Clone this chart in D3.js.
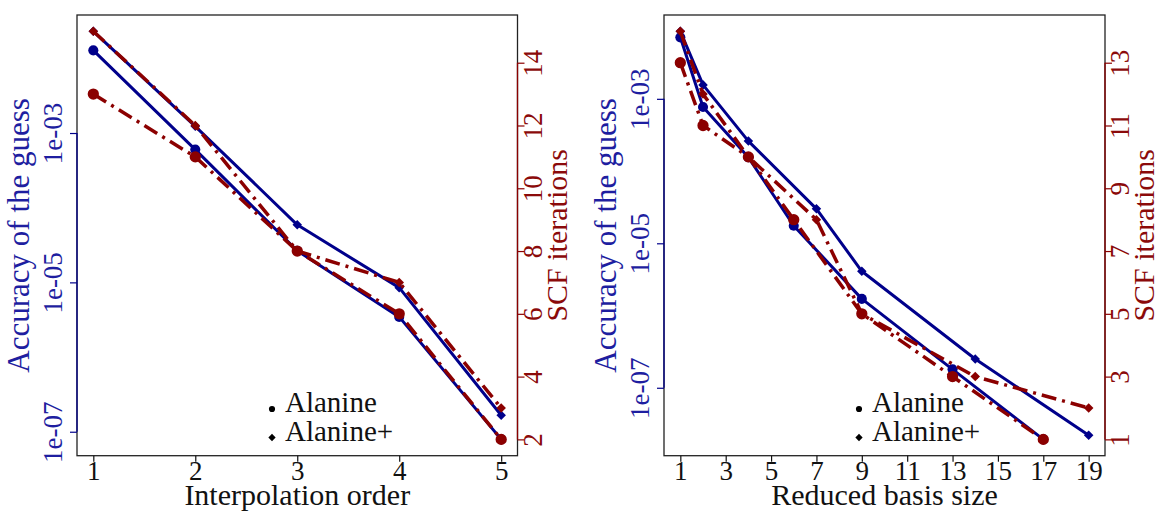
<!DOCTYPE html>
<html>
<head>
<meta charset="utf-8">
<script src="https://cdn.jsdelivr.net/npm/d3@7"></script>
<style>
  body { margin: 0; background: #fff; }
</style>
</head>
<body>
<svg id="chart" width="1161" height="512"></svg>
<script>
// Left panel: interpolation order
var orderX = [1, 2, 3, 4, 5];
var orderAccAla = [1.28e-2, 6.0e-4, 2.65e-5, 3.45e-6, 7.9e-8];
var orderAccAlaP = [2.3e-2, 1.23e-3, 5.9e-5, 8.5e-6, 1.66e-7];
var orderScfAla = [13, 11, 8, 6, 2];
var orderScfAlaP = [15, 12, 8, 7, 3];

// Right panel: reduced basis size
var basisXAla = [1, 2, 4, 6, 9, 13, 17];
var basisXAlaP = [1, 2, 4, 7, 9, 14, 19];
var basisAccAla = [7.1e-3, 7.7e-4, 1.55e-4, 1.75e-5, 1.7e-6, 1.8e-7, 1.93e-8];
var basisAccAlaP = [8.6e-3, 1.56e-3, 2.6e-4, 3.0e-5, 4.1e-6, 2.5e-7, 2.2e-8];
var basisScfAla = [13, 11, 10, 8, 5, 3, 1];
var basisScfAlaP = [14, 12, 10, 8, 5, 3, 2];

// ticks
var orderTicks = [1, 2, 3, 4, 5];
var basisTicks = [1, 3, 5, 7, 9, 11, 13, 15, 17, 19];
var accTicks = [1e-7, 1e-5, 1e-3];
var accTickLabels = ["1e-07", "1e-05", "1e-03"];
var orderScfTicks = [2, 4, 6, 8, 10, 12, 14];
var basisScfTicks = [1, 3, 5, 7, 9, 11, 13];

var legendNames = ["Alanine", "Alanine+"];

var blue = "#00008b", red = "#8b0000";
var blueText = "#1e1ea0", redText = "#8b0a0a";
var serif = "'Liberation Serif', 'DejaVu Serif', 'Noto Serif', 'Times New Roman', Tinos, serif";

var svg = d3.select("#chart").style("font-family", serif);

// R style 4% padding
function padded(ext) {
    var r = ext[1] - ext[0];
    return [ext[0] - 0.04 * r, ext[1] + 0.04 * r];
}

function drawPanel(p) {
    var g = svg.append("g");

    var allX = p.x1.concat(p.x2);
    var xScale = d3.scaleLinear().domain(padded(d3.extent(allX))).range([p.left, p.right]);

    var logs = p.acc1.concat(p.acc2).map(function(d) { return Math.log10(d); });
    var ld = padded(d3.extent(logs));
    var yAcc = d3.scaleLog().domain([Math.pow(10, ld[0]), Math.pow(10, ld[1])]).range([p.bottom, p.top]);

    var yScf = d3.scaleLinear().domain(padded(d3.extent(p.scf1.concat(p.scf2)))).range([p.bottom, p.top]);

    // box
    g.append("rect")
        .attr("x", p.left).attr("y", p.top)
        .attr("width", p.right - p.left).attr("height", p.bottom - p.top)
        .attr("fill", "none").attr("stroke", "#222").attr("stroke-width", 1.3);

    // bottom axis
    var xAxis = g.append("g")
        .attr("transform", "translate(0," + p.bottom + ")")
        .call(d3.axisBottom(xScale).tickValues(p.xTicks).tickSize(6).tickFormat(d3.format("d")));
    xAxis.attr("font-family", null);
    xAxis.select(".domain").remove();
    xAxis.selectAll("line").attr("stroke", "#111").attr("stroke-width", 1.2);
    xAxis.selectAll("text")
        .attr("y", 24).attr("dy", 0)
        .attr("font-size", 27).attr("fill", "#111")
        .style("font-family", serif);

    g.append("text")
        .attr("x", (p.left + p.right) / 2).attr("y", p.bottom + 49)
        .attr("text-anchor", "middle").attr("font-size", 30).attr("fill", "#111")
        .style("font-family", serif)
        .text(p.xlabel);

    // left axis (accuracy)
    var yAxisL = g.append("g")
        .attr("transform", "translate(" + p.left + ",0)")
        .call(d3.axisLeft(yAcc).tickValues(accTicks).tickSize(7)
            .tickFormat(function(d, i) { return accTickLabels[i]; }));
    yAxisL.attr("font-family", null);
    yAxisL.select(".domain").remove();
    yAxisL.selectAll("line").attr("stroke", blue).attr("stroke-width", 1.2);
    yAxisL.selectAll("text")
        .attr("transform", "rotate(-90)")
        .attr("x", 0).attr("y", -15).attr("dy", 0)
        .attr("text-anchor", "middle")
        .attr("font-size", 27).attr("fill", blueText)
        .style("font-family", serif);
    g.append("line")
        .attr("x1", p.left).attr("x2", p.left)
        .attr("y1", yAcc(accTicks[0])).attr("y2", yAcc(accTicks[accTicks.length - 1]))
        .attr("stroke", blue).attr("stroke-width", 1.3);

    g.append("text")
        .attr("transform", "translate(" + (p.left - 48) + "," + ((p.top + p.bottom) / 2) + ") rotate(-90)")
        .attr("text-anchor", "middle").attr("font-size", 31).attr("fill", blueText)
        .style("font-family", serif)
        .text("Accuracy of the guess");

    // right axis (SCF iterations)
    var yAxisR = g.append("g")
        .attr("transform", "translate(" + p.right + ",0)")
        .call(d3.axisRight(yScf).tickValues(p.scfTicks).tickSize(7));
    yAxisR.attr("font-family", null);
    yAxisR.select(".domain").remove();
    yAxisR.selectAll("line").attr("stroke", red).attr("stroke-width", 1.2);
    yAxisR.selectAll("text")
        .attr("transform", "rotate(-90)")
        .attr("x", 0).attr("y", 24).attr("dy", 0)
        .attr("text-anchor", "middle")
        .attr("font-size", 27).attr("fill", redText)
        .style("font-family", serif);
    g.append("line")
        .attr("x1", p.right).attr("x2", p.right)
        .attr("y1", yScf(p.scfTicks[0])).attr("y2", yScf(p.scfTicks[p.scfTicks.length - 1]))
        .attr("stroke", red).attr("stroke-width", 1.3);

    g.append("text")
        .attr("transform", "translate(" + (p.right + 49) + "," + ((p.top + p.bottom) / 2) + ") rotate(-90)")
        .attr("text-anchor", "middle").attr("font-size", 30).attr("fill", redText)
        .style("font-family", serif)
        .text("SCF iterations");

    // series
    var series = [
        {xs: p.x1, ys: p.acc1, y: yAcc, color: blue, shape: "circle", dash: null, w: 3},
        {xs: p.x2, ys: p.acc2, y: yAcc, color: blue, shape: "diamond", dash: null, w: 3},
        {xs: p.x1, ys: p.scf1, y: yScf, color: red, shape: "circle", dash: "15 6 3 6", w: 3.5},
        {xs: p.x2, ys: p.scf2, y: yScf, color: red, shape: "diamond", dash: "15 6 3 6", w: 3.5}
    ];

    series.forEach(function(s) {
        var pts = s.xs.map(function(x, i) { return [x, s.ys[i]]; });
        var line = d3.line()
            .x(function(d) { return xScale(d[0]); })
            .y(function(d) { return s.y(d[1]); });
        g.append("path")
            .datum(pts)
            .attr("d", line)
            .attr("fill", "none")
            .attr("stroke", s.color)
            .attr("stroke-width", s.w)
            .attr("stroke-dasharray", s.dash)
            .attr("stroke-linejoin", "round");

        var sym = d3.symbol()
            .type(s.shape == "circle" ? d3.symbolCircle : d3.symbolDiamond2)
            .size(s.shape == "circle" ? (s.color == red ? 100 : 80) : 58);
        g.selectAll(null)
            .data(pts)
            .enter().append("path")
            .attr("transform", function(d) {
                return "translate(" + xScale(d[0]) + "," + s.y(d[1]) + ")";
            })
            .attr("d", sym)
            .attr("fill", s.color);
    });

    // legend
    var lx = p.left + 195, ly = p.top + 394;
    var legend = g.append("g").attr("transform", "translate(" + lx + "," + ly + ")");
    legend.selectAll("path")
        .data(legendNames)
        .enter().append("path")
        .attr("transform", function(d, i) { return "translate(0," + (i * 28.5) + ")"; })
        .attr("d", function(d, i) {
            return d3.symbol().type(i == 0 ? d3.symbolCircle : d3.symbolDiamond2).size(i == 0 ? 30 : 34)();
        })
        .attr("fill", "#000");
    legend.selectAll("text")
        .data(legendNames)
        .enter().append("text")
        .attr("x", 13)
        .attr("y", function(d, i) { return 3 + i * 28.5; })
        .attr("font-size", 29)
        .attr("fill", "#111")
        .style("font-family", serif)
        .text(function(d) { return d; });
}

drawPanel({
    left: 77, right: 517.5, top: 15, bottom: 455.7,
    x1: orderX, x2: orderX,
    acc1: orderAccAla, acc2: orderAccAlaP,
    scf1: orderScfAla, scf2: orderScfAlaP,
    xTicks: orderTicks, scfTicks: orderScfTicks,
    xlabel: "Interpolation order"
});

drawPanel({
    left: 664, right: 1105, top: 15, bottom: 455.7,
    x1: basisXAla, x2: basisXAlaP,
    acc1: basisAccAla, acc2: basisAccAlaP,
    scf1: basisScfAla, scf2: basisScfAlaP,
    xTicks: basisTicks, scfTicks: basisScfTicks,
    xlabel: "Reduced basis size"
});
</script>
</body>
</html>
